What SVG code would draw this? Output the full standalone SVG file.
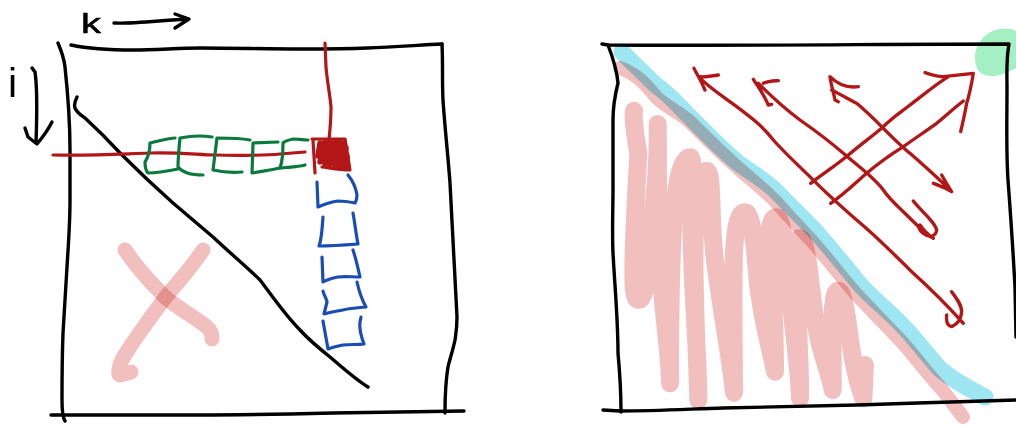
<svg xmlns="http://www.w3.org/2000/svg" width="1016" height="428" viewBox="0 0 1016 428">
<style>
path{fill:none;stroke-linecap:round;stroke-linejoin:round}
.k{stroke:#000;stroke-width:3.4}
.r{stroke:#b31616;stroke-width:3.2}
.h{stroke:#b31616;stroke-width:5.5}
.rz{stroke:#b31616;stroke-width:10}
.g{stroke:#0a7a3c;stroke-width:3.2}
.b{stroke:#1a4db3;stroke-width:3.2}
.p{stroke:#f2bfbf;mix-blend-mode:multiply}
.c{stroke:#9de6f2;stroke-width:17;mix-blend-mode:multiply}
text{font-family:"Liberation Sans",Arial,sans-serif;fill:#000}
</style>
<rect width="1016" height="428" fill="#fff"/>
<g id="left-matrix">
<path class="k" d="M58 43C61 50 64 58 65 67C68 95 70 125 70 150L70 200C70 225 68 250 67 267L63 333C62 360 62 385 62 400C62 412 63 418 65 421"/>
<path class="k" d="M71 45C90 49 110 50 133 50C155 50 180 48 200 48C235 48 265 49 300 49C325 49 345 49 367 48C395 47 420 45 442 44"/>
<path class="k" d="M442 44C443 65 442 80 443 100C445 130 448 155 450 183L457 317C457 328 456 333 455 340C453 350 450 358 448 367C445 385 445 400 445 413"/>
<path class="k" d="M51 415C100 415 150 415 200 415C245 415 290 414 333 413C380 412 425 412 464 411"/>
<path class="k" d="M77 97C75 101 74 105 75 108C77 113 81 115 85 118C97 129 109 141 120 153C137 170 155 187 173 203C187 215 200 226 213 237C229 252 250 270 260 280C270 293 285 315 300 330C310 341 320 349 330 357C343 368 355 379 368 387"/>
<text id="label-k" x="81" y="33" font-size="27" textLength="20" lengthAdjust="spacingAndGlyphs" stroke="#000" stroke-width=".5">k</text>
<path class="k" d="M114 23C130 24 165 20 188 19M175 14L189 19L175 28"/>
<text id="label-i" x="8" y="97" font-size="41">i</text>
<path class="k" d="M32 68L35 72C37 85 37 115 36 143M25 128L28 137L37 144C42 138 48 130 52 122"/>
<path class="p" stroke-width="15" d="M125 250C135 265 150 282 165 297C180 310 200 320 208 328C212 332 212 336 212 339"/>
<path class="p" stroke-width="15" d="M203 250C190 270 175 285 165 298C150 318 130 345 122 360C118 368 118 374 120 375L131 372"/>
<path class="r" d="M325 43L326 67C327 80 330 95 331 107C331 120 330 130 329 140M53 155C90 156 120 154 150 153C180 152 200 155 215 155C240 156 270 155 280 154L305 152"/>
</g>
<g id="pivot">
<path class="r" d="M312 139L345 139L350 170C340 170 330 168 322 167M313 140L315 173"/>
<path class="h" d="M320 143L318 156M325 142L320 162M330 142L325 164M335 142L330 165M339 142L335 165M343 143L339 166M346 148L343 166M347 156L346 167"/>
</g>
<g id="row-cells">
<path class="g" d="M175 138C165 139 158 141 150 143C150 150 149 156 145 162C145 168 146 171 148 173C158 173 168 171 178 169"/>
<path class="g" d="M212 137C200 135 190 136 180 138C179 148 178 158 178 167C182 172 188 175 203 175"/>
<path class="g" d="M250 140C240 138 228 138 217 138L213 170C222 172 232 173 242 172"/>
<path class="g" d="M278 142L253 143L252 173C262 171 272 170 280 168C290 167 298 167 305 165"/>
<path class="g" d="M308 140C302 140 298 139 293 139C288 140 285 141 283 143C283 152 283 160 280 168"/>
</g>
<g id="column-cells">
<path class="b" d="M317 182L318 207C325 204 330 202 338 201C345 201 350 202 355 203C357 200 357 197 357 195C356 188 352 180 348 175"/>
<path class="b" d="M323 217C322 228 322 238 319 246C332 246 345 245 358 244C356 234 355 224 353 213"/>
<path class="b" d="M322 257L323 282C328 279 333 278 338 277C345 276 352 277 360 277C358 268 356 259 353 250"/>
<path class="b" d="M323 291C324 296 327 299 327 302L324 314C331 312 337 311 343 310C350 308 358 308 366 307C362 300 359 291 357 282"/>
<path class="b" d="M323 321L328 349C333 347 338 346 343 345C350 344 357 345 364 344C361 336 359 328 360 322L361 317"/>
</g>
<g id="right-matrix">
<path style="fill:#a5efc5;stroke:none" d="M975 60C974 45 985 31 1000 29C1010 28 1016 30 1016 32L1016 68C1008 72 1000 77 990 76C980 75 976 70 975 60Z"/>
<path class="c" d="M622 52L636 66C645 74 650 80 657 86C670 95 680 107 690 117C705 132 720 148 737 162C750 172 765 180 777 192C790 206 805 220 817 233C830 248 845 266 857 281C870 297 888 310 900 323C915 338 928 356 940 369C955 382 972 390 985 397"/>
<path class="p" stroke-width="14" d="M620 68C640 75 650 90 657 98C668 108 680 113 690 122C705 137 720 152 737 167C750 179 765 190 777 203C790 218 805 233 817 247C830 262 845 282 857 295C870 309 888 327 900 340C915 356 928 375 940 387C948 397 956 408 963 417"/>
<g transform="translate(590 20) scale(.33333)">
<path class="p" stroke-width="54" d="M132 272C128 300 135 340 145 400C140 500 130 650 130 760C130 820 135 840 147 840C165 840 175 760 185 620C195 520 205 430 203 312C205 400 200 550 212 750C220 900 240 1000 240 1090C240 1000 240 800 248 650C255 500 270 412 300 412C315 412 302 500 305 650C308 850 325 1000 325 1140C322 1000 308 800 315 600C320 520 330 452 350 452C370 452 360 620 375 720C390 850 420 1000 432 1118C432 1000 428 820 432 700C436 620 445 577 465 577C490 577 495 700 505 800C520 920 545 1000 555 1055C555 950 548 800 540 720C532 640 540 592 560 592C580 592 590 720 600 820C612 950 628 1050 630 1135C632 1030 620 850 615 760C610 700 615 655 630 655C650 655 660 780 675 900C690 1000 720 1060 728 1110C730 1020 725 950 727 890C730 840 735 812 745 812C760 812 770 880 780 960C790 1040 810 1110 820 1135L825 1035"/>
</g>
<path class="k" d="M602 44L608 45C750 46 880 44 1009 44C1006 60 1007 75 1007 87C1007 120 1006 150 1008 180C1011 220 1013 250 1015 287L1016 337"/>
<path class="k" d="M608 45C613 58 617 72 618 83C615 95 613 108 613 120L613 187C613 210 612 232 613 253C615 290 618 320 618 353C620 375 621 395 621 412"/>
<path class="k" d="M603 410L620 411C655 411 690 409 723 408C770 407 815 406 857 405C910 403 965 402 1016 400"/>
</g>
<g id="connectors" transform="translate(590 20) scale(.33333)">
<path class="rz" d="M325 170C360 205 400 230 440 260C480 290 520 320 550 360C590 405 640 450 680 490C720 530 760 565 800 600C860 650 920 710 970 760C1020 805 1075 860 1120 910M312 145C318 158 330 175 345 210M330 170C345 172 365 168 385 165M1085 815C1100 835 1115 855 1115 875C1112 900 1105 910 1085 920C1072 918 1068 905 1070 885"/>
<path class="rz" d="M505 190C540 225 590 270 630 300C680 335 720 365 760 400C800 435 850 470 880 510C900 540 930 565 950 585C975 610 1000 635 1020 650M490 178C500 195 515 210 535 255L545 253M520 190C535 183 550 183 565 182M970 543C990 570 1040 610 1040 632C1035 650 1020 655 1000 640C985 630 985 618 990 615C1000 630 1015 645 1030 655"/>
<path class="rz" d="M725 210C755 225 780 240 800 250C830 275 855 300 880 325C910 355 935 380 960 400C1000 435 1045 475 1085 515M720 170C722 190 730 215 735 240L745 245M720 170C740 190 770 205 805 200M1030 490C1050 498 1070 505 1085 515C1075 500 1065 482 1055 465"/>
<path class="rz" d="M662 490C700 460 740 435 775 405C810 375 845 350 880 320C910 290 935 275 960 255C1000 225 1035 195 1075 170M1005 158C1025 165 1040 170 1060 170L1150 160C1145 190 1140 220 1130 250C1125 280 1118 310 1112 335"/>
<path class="rz" d="M722 550C760 525 795 490 830 460C865 430 900 405 940 380C975 355 1005 335 1040 310C1070 285 1095 262 1120 243"/>
</g>
</svg>
